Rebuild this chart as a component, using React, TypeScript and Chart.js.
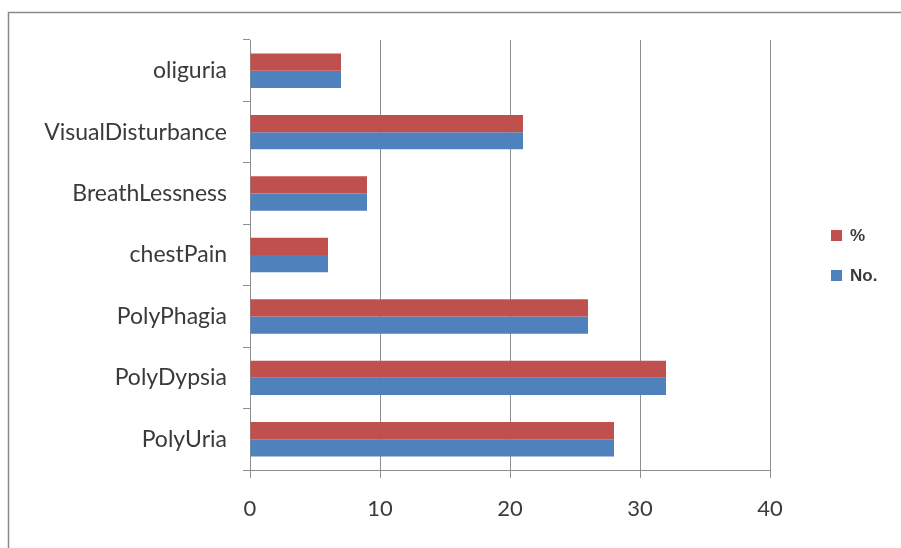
import React, { useEffect, useRef } from "react";
import { Chart, registerables } from "chart.js";

Chart.register(...registerables);

const categories = [
  "oliguria",
  "VisualDisturbance",
  "BreathLessness",
  "chestPain",
  "PolyPhagia",
  "PolyDypsia",
  "PolyUria",
];
const percentValues = [7, 21, 9, 6, 26, 32, 28];
const countValues = [7, 21, 9, 6, 26, 32, 28];
const seriesNames = ["%", "No."];
const seriesColors = ["#C0504D", "#4F81BD"];
const xMin = 0;
const xMax = 40;
const xStep = 10;

const GRID = "#8f8f8f";
const TEXT = "#3a3a3a";

const framePlugin = {
  id: "frame",
  beforeDraw(chart: any) {
    const ctx = chart.ctx;
    ctx.save();
    ctx.fillStyle = "#ffffff";
    ctx.fillRect(0, 0, chart.width, chart.height);
    ctx.strokeStyle = "#8a8a8a";
    ctx.lineWidth = 1.5;
    ctx.beginPath();
    ctx.moveTo(8.5, chart.height);
    ctx.lineTo(8.5, 12.5);
    ctx.lineTo(chart.width, 12.5);
    ctx.stroke();
    ctx.restore();
  },
};

const legendPlugin = {
  id: "sideLegend",
  afterDraw(chart: any) {
    const ctx = chart.ctx;
    const area = chart.chartArea;
    const cy = (area.top + area.bottom) / 2;
    const boxX = area.right + 61;
    const rowGap = 40;
    ctx.save();
    ctx.font = "bold 17px 'Liberation Sans', Arial, sans-serif";
    ctx.textBaseline = "middle";
    ctx.textAlign = "left";
    chart.data.datasets.forEach((ds: any, i: number) => {
      const y = cy - rowGap / 2 + i * rowGap;
      ctx.fillStyle = ds.backgroundColor;
      ctx.fillRect(boxX, y - 5, 11, 11);
      ctx.fillStyle = TEXT;
      ctx.fillText(ds.label, boxX + 19, y + 1);
    });
    ctx.restore();
  },
};

export default function App() {
  const ref = useRef<HTMLCanvasElement | null>(null);

  useEffect(() => {
    if (!ref.current) return;
    const chart = new Chart(ref.current, {
      type: "bar",
      data: {
        labels: categories,
        datasets: [
          {
            label: seriesNames[0],
            data: percentValues,
            backgroundColor: seriesColors[0],
            borderWidth: 0,
            categoryPercentage: 0.56,
            barPercentage: 1,
          },
          {
            label: seriesNames[1],
            data: countValues,
            backgroundColor: seriesColors[1],
            borderWidth: 0,
            categoryPercentage: 0.56,
            barPercentage: 1,
          },
        ],
      },
      options: {
        indexAxis: "y",
        responsive: false,
        animation: false,
        devicePixelRatio: 1,
        layout: { padding: { top: 40, right: 131, left: 0, bottom: 0 } },
        plugins: {
          legend: { display: false },
          tooltip: { enabled: false },
        },
        scales: {
          x: {
            min: xMin,
            max: xMax,
            ticks: {
              stepSize: xStep,
              font: { family: "Lato", size: 22 },
              color: TEXT,
              padding: 18,
            },
            grid: { color: GRID, tickLength: 8, drawTicks: true },
            border: { color: GRID },
            afterFit: (s: any) => {
              s.height = 78;
            },
          },
          y: {
            grid: {
              display: true,
              drawOnChartArea: false,
              tickLength: 7,
              color: GRID,
              offset: true,
            },
            border: { color: GRID },
            ticks: {
              font: { family: "Lato", size: 23 },
              color: TEXT,
              padding: 16,
            },
            afterFit: (s: any) => {
              s.width = 250;
            },
          },
        },
      },
      plugins: [framePlugin, legendPlugin],
    });
    return () => chart.destroy();
  }, []);

  return (
    <div style={{ position: "absolute", left: 0, top: 0, width: 901, height: 548 }}>
      <canvas ref={ref} width={901} height={548} style={{ display: "block" }} />
    </div>
  );
}
